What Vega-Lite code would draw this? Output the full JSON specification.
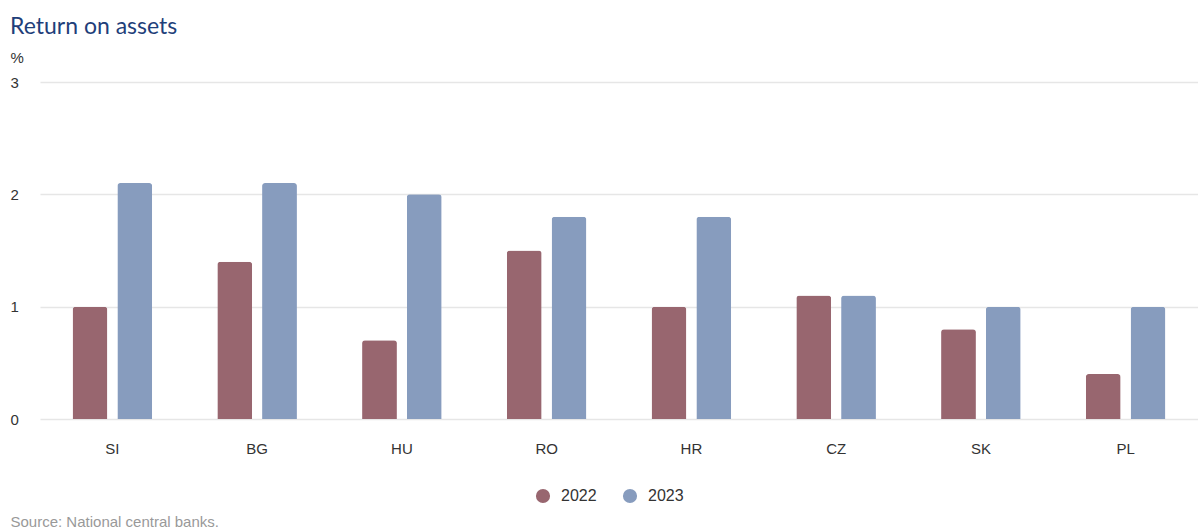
{
  "$schema": "https://vega.github.io/schema/vega-lite/v6.json",
  "width": 1158,
  "height": 337,
  "autosize": {"type": "none"},
  "padding": {"left": 40, "top": 82, "right": 0, "bottom": 110},
  "background": "white",
  "title": {
    "text": "Return on assets",
    "anchor": "start",
    "frame": "group",
    "font": "Lato",
    "fontSize": 23,
    "fontWeight": "normal",
    "color": "#1f3f7a",
    "dx": -30,
    "offset": 30,
    "dy": 19
  },
  "data": {
    "values": [
      {"country": "SI", "year": "2022", "value": 1.0},
      {"country": "SI", "year": "2023", "value": 2.1},
      {"country": "BG", "year": "2022", "value": 1.4},
      {"country": "BG", "year": "2023", "value": 2.1},
      {"country": "HU", "year": "2022", "value": 0.7},
      {"country": "HU", "year": "2023", "value": 2.0},
      {"country": "RO", "year": "2022", "value": 1.5},
      {"country": "RO", "year": "2023", "value": 1.8},
      {"country": "HR", "year": "2022", "value": 1.0},
      {"country": "HR", "year": "2023", "value": 1.8},
      {"country": "CZ", "year": "2022", "value": 1.1},
      {"country": "CZ", "year": "2023", "value": 1.1},
      {"country": "SK", "year": "2022", "value": 0.8},
      {"country": "SK", "year": "2023", "value": 1.0},
      {"country": "PL", "year": "2022", "value": 0.4},
      {"country": "PL", "year": "2023", "value": 1.0}
    ]
  },
  "mark": {"type": "bar", "cornerRadiusTopLeft": 3, "cornerRadiusTopRight": 3},
  "encoding": {
    "x": {
      "field": "country",
      "type": "nominal",
      "sort": null,
      "scale": {"paddingInner": 0.45, "paddingOuter": 0.225},
      "axis": {
        "labelAngle": 0,
        "labelFont": "Liberation Sans",
        "labelFontSize": 15,
        "labelColor": "#333333",
        "labelPadding": 22,
        "ticks": false,
        "domain": false,
        "title": "Source: National central banks.",
        "titleFont": "Liberation Sans",
        "titleFontSize": 15,
        "titleFontWeight": "normal",
        "titleColor": "#999999",
        "titleAnchor": "start",
        "titleAlign": "left",
        "titleBaseline": "alphabetic",
        "titleX": -30,
        "titleY": 107
      }
    },
    "xOffset": {"field": "year", "type": "nominal", "scale": {"paddingInner": 0.222, "paddingOuter": 0}},
    "y": {
      "field": "value",
      "type": "quantitative",
      "scale": {"domain": [0, 3]},
      "axis": {
        "values": [0, 1, 2, 3],
        "labelAlign": "left",
        "labelPadding": 30,
        "labelFont": "Liberation Sans",
        "labelFontSize": 15,
        "labelColor": "#333333",
        "ticks": false,
        "domain": false,
        "gridColor": "#e6e6e6",
        "gridWidth": 1.5,
        "title": "%",
        "titleAngle": 0,
        "titleFont": "Liberation Sans",
        "titleFontSize": 15,
        "titleFontWeight": "normal",
        "titleColor": "#333333",
        "titleAlign": "left",
        "titleBaseline": "alphabetic",
        "titleX": -30,
        "titleY": -20
      }
    },
    "color": {
      "field": "year",
      "type": "nominal",
      "scale": {"domain": ["2022", "2023"], "range": ["#98666f", "#879cbe"]},
      "legend": {
        "orient": "none",
        "direction": "horizontal",
        "legendX": 495,
        "legendY": 406,
        "title": null,
        "symbolType": "circle",
        "symbolSize": 200,
        "symbolStrokeWidth": 0,
        "labelFont": "Liberation Sans",
        "labelFontSize": 16,
        "labelColor": "#333333",
        "columnPadding": 25,
        "labelOffset": 10
      }
    }
  },
  "config": {"view": {"stroke": null}}
}
